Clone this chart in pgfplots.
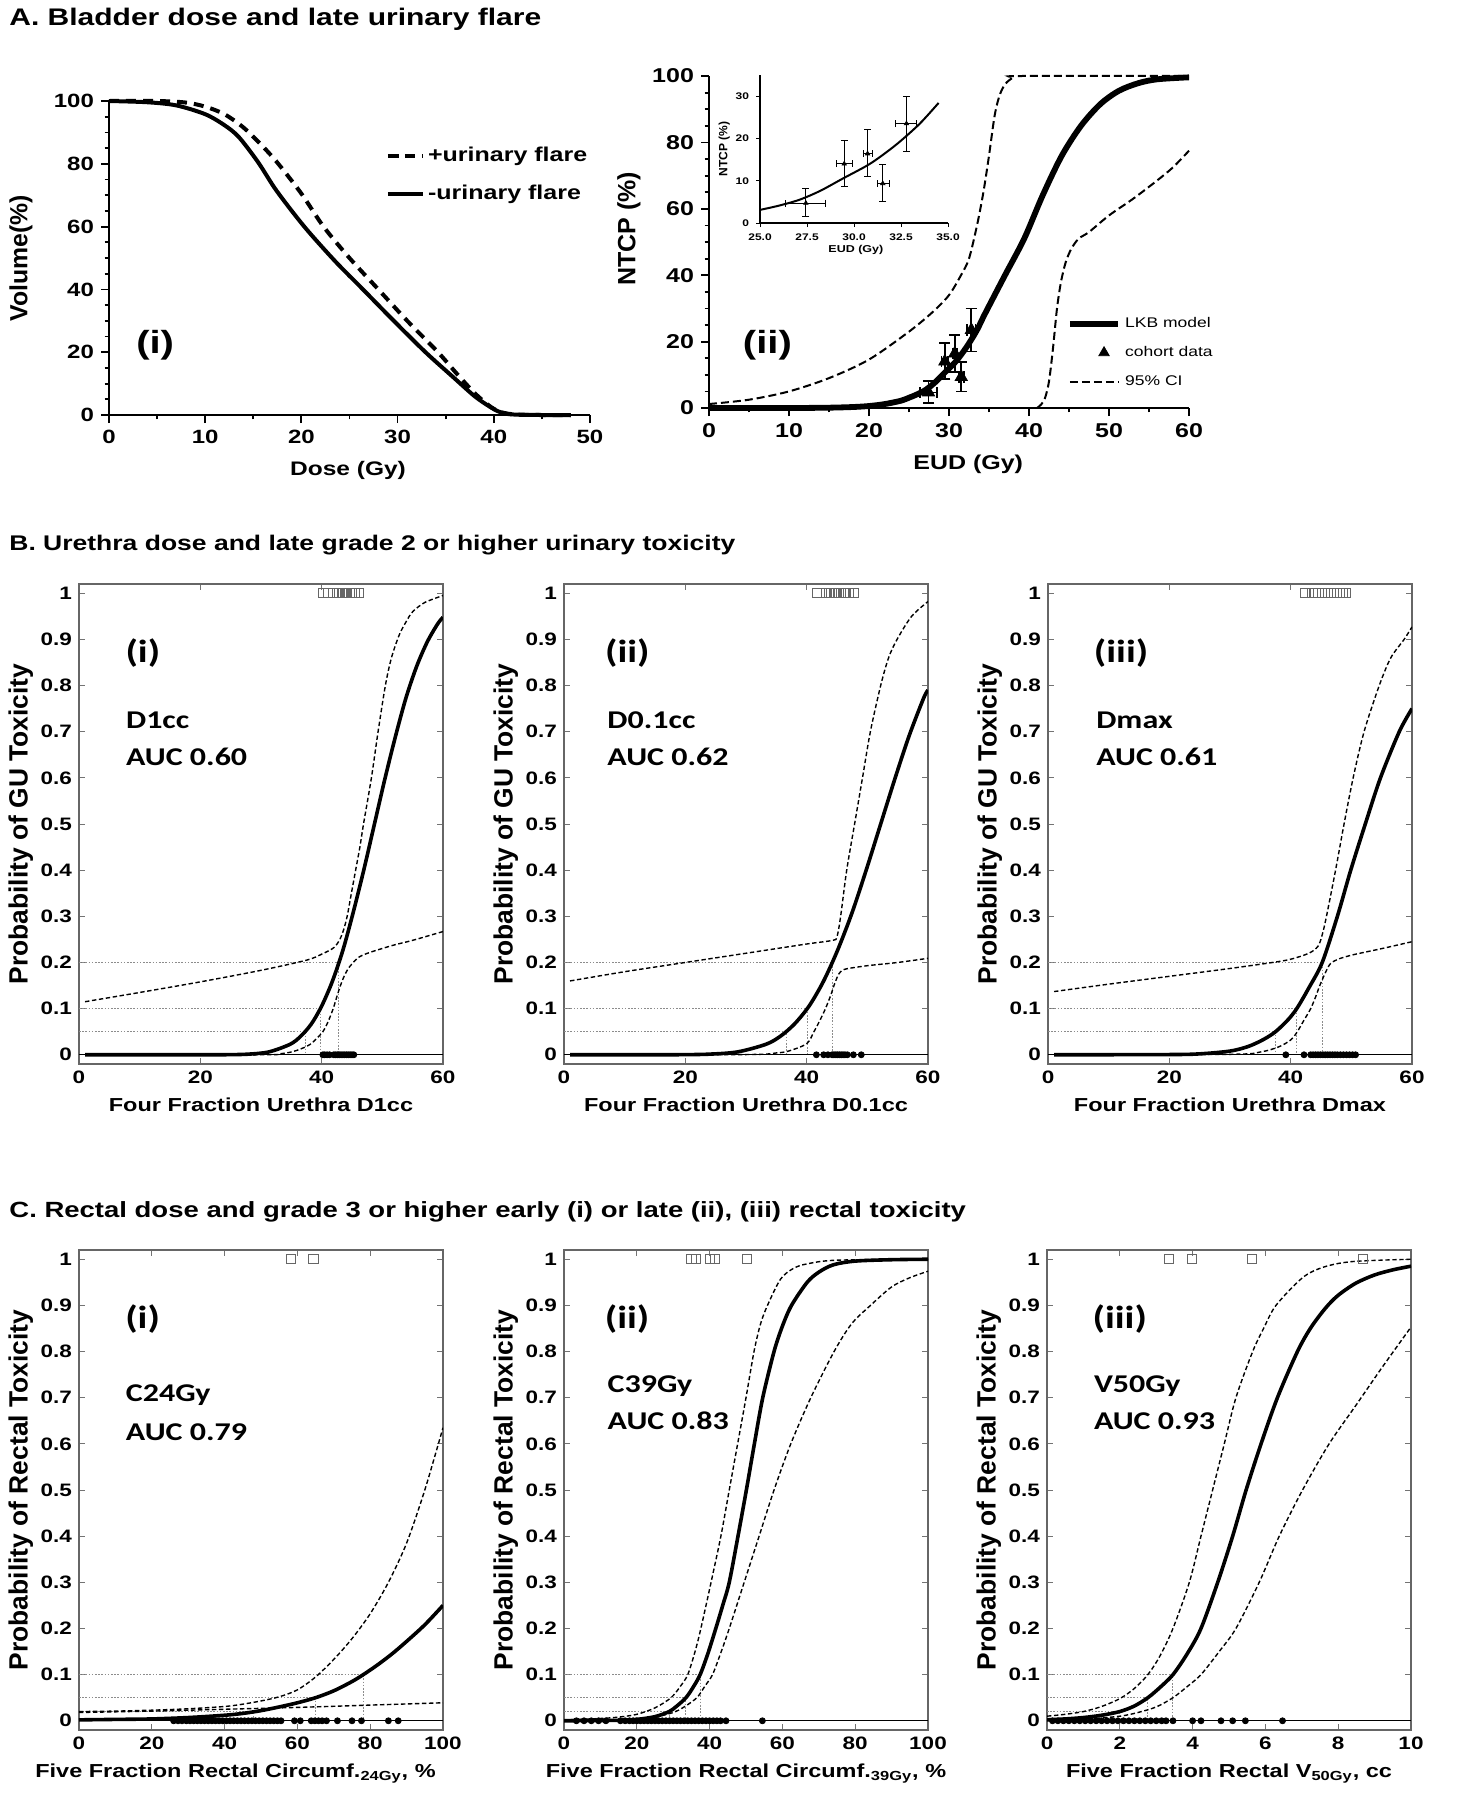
\documentclass[border=0pt]{standalone}
\usepackage{fontspec}
\setmainfont{Liberation Sans}[FakeStretch=1.25]
\newfontfamily\ylab{Liberation Sans}
\newfontfamily\calib{Carlito}[FakeStretch=1.25]
\usepackage{pgfplots}
\pgfplotsset{compat=1.18}
\tikzset{
  pnl/.style={font=\calib\fontsize{16}{18}\selectfont\bfseries, anchor=west, inner sep=0pt},
  auc/.style={font=\calib\fontsize{12.8}{14}\selectfont\bfseries, anchor=west, inner sep=0pt},
  ttl/.style={font=\fontsize{12}{14}\selectfont\bfseries, anchor=base west, inner sep=0pt},
}
\pgfplotsset{
  every axis/.append style={/pgf/number format/assume math mode=true},
  abase/.style={scale only axis, clip=false,
    axis x line*=bottom, axis y line*=left,
    axis line style={line width=1pt, black},
    tick align=outside, major tick length=4pt, minor tick length=2.2pt,
    tick style={black, line width=0.9pt},
    tick label style={font=\fontsize{9.6}{11}\selectfont\bfseries},
  },
  gbox/.style={scale only axis, width=182pt, height=240pt,
    xmin=0, ymin=-0.02, ymax=1.02,
    axis line style={black!60, line width=0.6pt},
    tick align=inside, major tick length=3pt,
    tick style={black!55, line width=0.5pt},
    ytick={0,0.1,0.2,0.3,0.4,0.5,0.6,0.7,0.8,0.9,1},
    yticklabels={0,0.1,0.2,0.3,0.4,0.5,0.6,0.7,0.8,0.9,1},
    tick label style={font=\fontsize{9}{10}\selectfont\bfseries},
    xlabel style={font=\fontsize{9.4}{11}\selectfont\bfseries, at={(axis description cs:0.5,-0.085)}, anchor=center},
    ylabel style={font=\ylab\fontsize{13.2}{15}\selectfont\bfseries, at={(axis description cs:-0.16,0.5)}, anchor=center},
  },
  gsolid/.style={black, line width=1.8pt, smooth},
  gdash/.style={black, line width=0.7pt, dash pattern=on 2.2pt off 1.3pt, smooth},
  guide/.style={black!45, line width=0.5pt, dash pattern=on 0.8pt off 0.8pt},
  zline/.style={black, line width=0.5pt},
  sq/.style={only marks, mark=square, mark size=2.3pt, mark options={black!60, line width=0.5pt}},
  dots/.style={only marks, mark=*, mark size=1.5pt, black},
}
\begin{document}
\begin{tikzpicture}
\path[use as bounding box] (0,0) rectangle (731.5pt,-900pt);
\node[ttl] at (4.5pt,-12.75pt) {A. Bladder dose and late urinary flare};
\node[ttl, font=\fontsize{10.6}{13}\selectfont\bfseries] at (4.5pt,-275.25pt) {B. Urethra dose and late grade 2 or higher urinary toxicity};
\node[ttl, font=\fontsize{11}{13}\selectfont\bfseries] at (4.5pt,-608.75pt) {C. Rectal dose and grade 3 or higher early (i) or late (ii), (iii) rectal toxicity};

% ---------------- A(i)
\begin{axis}[abase, at={(54.5pt,-207.5pt)}, anchor=south west, width=240.5pt, height=157pt,
  xmin=0, xmax=50, ymin=0, ymax=100, xtick={0,10,...,50}, ytick={0,20,...,100},
  minor x tick num=1, minor y tick num=3,
  xlabel={Dose (Gy)}, ylabel={Volume(\%)},
  xlabel style={font=\fontsize{9.8}{11}\selectfont\bfseries, at={(axis description cs:0.497,-0.175)}, anchor=center},
  ylabel style={font=\ylab\fontsize{12.4}{14}\selectfont\bfseries, at={(axis description cs:-0.183,0.5)}, anchor=center},
  legend style={at={(0.575,0.765)}, anchor=west, draw=none, fill=none, font=\fontsize{10}{12}\selectfont\bfseries, row sep=6pt, inner sep=0pt},
  legend cell align=left]
\addplot[black, line width=2pt, dash pattern=on 5pt off 3.5pt, smooth] coordinates {
(0,100) (5,100) (8,99.5) (10,98.2) (12,95.8) (14,91.5) (16,85.5) (17.6,80) (20,70.5) (22.3,60) (25,50) (28,40) (31,30) (34.2,20) (36.2,13) (38,7) (39.5,3) (40.5,1.2) (41.5,0.4) (43,0.1) (45,0) (48,0)};
\addlegendentry{+urinary flare}
\addplot[black, line width=2pt, smooth] coordinates {
(0,100) (4,99.6) (7,98.6) (10,95.8) (12,92.3) (13.5,88.5) (15.5,80.5) (17.4,71.5) (20.3,60) (23.5,49) (26.4,40) (29.6,30) (32.9,20) (35.8,12) (38,6) (39.5,2.8) (40.5,1.1) (41.5,0.3) (43,0.05) (45,0) (48,0)};
\addlegendentry{-urinary flare}
\node[font=\fontsize{16}{18}\selectfont\bfseries] at (axis cs:4.8,22.3) {(i)};
\end{axis}

% ---------------- A(ii)
\begin{axis}[abase, at={(354.5pt,-204pt)}, anchor=south west, width=240pt, height=166pt,
  xmin=0, xmax=60, ymin=0, ymax=100, xtick={0,10,...,60}, ytick={0,20,...,100},
  minor x tick num=1, minor y tick num=3,
  xlabel={EUD (Gy)}, ylabel={NTCP (\%)},
  tick label style={font=\fontsize{10}{12}\selectfont\bfseries},
  xlabel style={font=\fontsize{10}{12}\selectfont\bfseries, at={(axis description cs:0.54,-0.169)}, anchor=center},
  ylabel style={font=\ylab\fontsize{12.5}{14}\selectfont\bfseries, at={(axis description cs:-0.167,0.54)}, anchor=center},
  legend style={at={(0.745,0.167)}, anchor=west, draw=none, fill=none, font=\fontsize{7}{8}\selectfont, row sep=4pt, inner sep=0pt},
  legend cell align=left,
  legend image code/.code={\draw[#1] (0cm,0cm) -- (0.85cm,0cm);}]
\addplot[black, line width=2.9pt, smooth] coordinates {
(0,0) (10,0) (15,0.1) (18,0.3) (20,0.6) (22,1.2) (24,2.2) (25,3.1) (26,4.1) (27.1,5.5) (28.2,7.6) (29.4,10.5) (30.7,13.6) (31.5,16) (32.4,19.1) (33.5,23.5) (34.5,28.4) (37,40) (39.4,51) (41.7,64) (44.1,76) (46.5,85) (48.9,91.5) (51.2,95.5) (53.6,97.8) (56,99) (60,99.6)};
\addlegendentry{LKB model}
\addlegendimage{legend image code/.code={\draw[black, only marks, mark=triangle*, mark size=3pt] plot coordinates {(0.6cm,0cm)};}}
\addlegendentry{cohort data}
\addplot[black, line width=1pt, dash pattern=on 4pt off 2pt, smooth] coordinates {
(0,1.2) (5,2.5) (10,5) (15,9) (20,14.6) (25,23) (28,29) (30,34) (31.5,40) (32.5,45) (33.5,55) (34.3,65) (35,76) (35.7,88) (36.3,94) (37,97.5) (38,99.5) (39,100) (60,100)};
\addlegendentry{95\% CI}
\addplot[black, line width=1pt, dash pattern=on 4pt off 2pt, smooth, forget plot] coordinates {
(41,0) (41.5,1) (42,3) (42.5,8) (43,18) (43.5,30) (44,38) (44.6,44) (45.3,48) (46.2,51) (47.5,53) (50,58) (53,63) (56,68.5) (58,72.5) (60,77.5)};
\addplot[black, only marks, mark=triangle*, mark size=3.5pt, forget plot,
  error bars/.cd, x dir=both, x explicit, y dir=both, y explicit,
  error bar style={line width=0.9pt, black},
  error mark options={rotate=90, mark size=2.8pt, line width=0.9pt, black}]
  coordinates {
  (27.44,4.7) += (1.06,3.5) -= (1.11,3.1)
  (29.48,14.0) += (0.44,5.5) -= (0.41,5.3)
  (30.72,16.4) += (0.26,5.7) -= (0.23,5.5)
  (31.53,9.35) += (0.37,4.55) -= (0.30,4.35)
  (32.79,23.5) += (0.51,6.5) -= (0.59,6.5)
  };
\node[font=\fontsize{16}{18}\selectfont\bfseries] at (axis cs:7.3,19) {(ii)};
\end{axis}

% ---------------- inset
\begin{axis}[abase, at={(380pt,-111.5pt)}, anchor=south west, width=94pt, height=74pt,
  xmin=25, xmax=35, ymin=0, ymax=35, xtick={25,27.5,30,32.5,35}, ytick={0,10,20,30},
  x tick label style={/pgf/number format/fixed, /pgf/number format/fixed zerofill, /pgf/number format/precision=1},
  axis line style={line width=0.6pt}, major tick length=2pt, tick style={line width=0.5pt},
  tick label style={font=\fontsize{4.8}{5.5}\selectfont\bfseries},
  xlabel={EUD (Gy)}, ylabel={NTCP (\%)},
  xlabel style={font=\fontsize{5}{6}\selectfont\bfseries, at={(axis description cs:0.51,-0.18)}, anchor=center},
  ylabel style={font=\ylab\fontsize{6}{7}\selectfont\bfseries, at={(axis description cs:-0.19,0.5)}, anchor=center}]
\addplot[black, line width=1pt, smooth] coordinates {
(25,3.1) (26,4.1) (27.1,5.5) (28.2,7.6) (29.4,10.5) (30.7,13.6) (31.5,16) (32.4,19.1) (33.5,23.5) (34.5,28.4)};
\addplot[black, only marks, mark=triangle*, mark size=1.2pt,
  error bars/.cd, x dir=both, x explicit, y dir=both, y explicit,
  error bar style={line width=0.5pt, black},
  error mark options={rotate=90, mark size=1.7pt, line width=0.5pt, black}]
  coordinates {
  (27.44,4.7) += (1.06,3.5) -= (1.11,3.1)
  (29.48,14.0) += (0.44,5.5) -= (0.41,5.3)
  (30.72,16.4) += (0.26,5.7) -= (0.23,5.5)
  (31.53,9.35) += (0.37,4.55) -= (0.30,4.35)
  (32.79,23.5) += (0.51,6.5) -= (0.59,6.5)
  };
\end{axis}

% ---------------- B(i)
\begin{axis}[gbox, at={(39.5pt,-532pt)}, anchor=south west, xmax=60, xtick={0,20,40,60},
  xlabel={Four Fraction Urethra D1cc}, ylabel={Probability of GU Toxicity}]
\addplot[guide] coordinates {(0,0.2) (42.85,0.2) (42.85,0)};
\addplot[guide] coordinates {(0,0.1) (39.8,0.1) (39.8,0)};
\addplot[guide] coordinates {(0,0.05) (37.3,0.05) (37.3,0)};
\addplot[zline] coordinates {(0,0) (60,0)};
\addplot[gdash] coordinates {(1,0.115) (10,0.135) (20,0.158) (30,0.183) (37.5,0.205) (40,0.218) (42,0.232) (43,0.25) (43.6,0.27) (44.2,0.3) (44.9,0.35) (45.6,0.4) (46.3,0.45) (46.9,0.5) (48.2,0.6) (49.3,0.7) (50.5,0.8) (51.5,0.86) (52.8,0.91) (54,0.94) (55,0.96) (57,0.98) (60,0.995)};
\addplot[gdash] coordinates {(1,0) (30,0) (33,0.002) (35.3,0.007) (37.5,0.018) (38.6,0.028) (40.2,0.05) (41,0.07) (41.9,0.1) (42.6,0.13) (43.1,0.15) (43.7,0.17) (44.3,0.185) (45,0.197) (46.2,0.212) (48,0.222) (51.7,0.237) (55,0.248) (60,0.267)};
\addplot[gsolid] coordinates {(1,0) (20.9,0) (24.4,0.0002) (27.85,0.0013) (31.3,0.0062) (34.8,0.0228) (36.54,0.0401) (38.3,0.0668) (40.0,0.1056) (41.75,0.1587) (43.5,0.2266) (45.2,0.3085) (46.96,0.4013) (48.7,0.5) (50.44,0.5987) (52.2,0.6915) (53.9,0.7734) (55.65,0.8413) (57.4,0.8944) (59.1,0.9332) (60,0.948)};
\addplot[dots] coordinates {(40.2,0) (40.5,0) (40.9,0) (41.3,0) (42.0,0) (42.3,0) (42.6,0) (42.9,0) (43.2,0) (43.5,0) (43.8,0) (44.1,0) (44.4,0) (44.7,0) (45.0,0) (45.3,0)};
\addplot[sq] coordinates {(40.3,1) (41.0,1) (42.5,1) (42.9,1) (43.3,1) (43.6,1) (43.9,1) (44.2,1) (44.6,1) (45.0,1) (45.5,1) (46.2,1)};
\node[pnl] at (axis cs:7.6,0.87) {(i)};
\node[auc] at (axis cs:7.7,0.725) {D1cc};
\node[auc] at (axis cs:7.7,0.645) {AUC 0.60};
\end{axis}

% ---------------- B(ii)
\begin{axis}[gbox, at={(282pt,-532pt)}, anchor=south west, xmax=60, xtick={0,20,40,60},
  xlabel={Four Fraction Urethra D0.1cc}, ylabel={Probability of GU Toxicity}]
\addplot[guide] coordinates {(0,0.2) (44.25,0.2) (44.25,0)};
\addplot[guide] coordinates {(0,0.1) (40.1,0.1) (40.1,0)};
\addplot[guide] coordinates {(0,0.05) (36.65,0.05) (36.65,0)};
\addplot[zline] coordinates {(0,0) (60,0)};
\addplot[gdash] coordinates {(1,0.16) (10,0.18) (20,0.2) (30,0.22) (40,0.24) (44.3,0.248) (45,0.256) (45.6,0.3) (46.6,0.4) (47.9,0.5) (49.2,0.6) (50.5,0.7) (52.2,0.8) (53.5,0.86) (54.9,0.9) (57.3,0.95) (60,0.982)};
\addplot[gdash] coordinates {(1,0) (30,0.0005) (35,0.004) (37,0.008) (40,0.024) (41.2,0.05) (42.2,0.075) (43.1,0.1) (44,0.13) (44.5,0.15) (45.1,0.17) (45.6,0.18) (46.5,0.186) (50,0.193) (55,0.2) (60,0.209)};
\addplot[gsolid] coordinates {(1,0) (14.4,0) (19.1,0.0002) (23.85,0.0013) (28.6,0.0062) (33.3,0.0228) (35.66,0.0401) (38.0,0.0668) (40.4,0.1056) (42.75,0.1587) (45.1,0.2266) (47.5,0.3085) (49.84,0.4013) (52.2,0.5) (54.56,0.5987) (56.9,0.6915) (59.3,0.7734) (60,0.79)};
\addplot[dots] coordinates {(41.6,0) (42.8,0) (43.5,0) (44.2,0) (44.5,0) (44.8,0) (45.1,0) (45.4,0) (45.7,0) (46.0,0) (46.3,0) (46.7,0) (47.7,0) (49.0,0)};
\addplot[sq] coordinates {(41.7,1) (43.2,1) (43.7,1) (44.1,1) (44.5,1) (44.9,1) (45.3,1) (45.7,1) (46.1,1) (46.5,1) (46.9,1) (47.8,1)};
\node[pnl] at (axis cs:6.7,0.87) {(ii)};
\node[auc] at (axis cs:7.1,0.725) {D0.1cc};
\node[auc] at (axis cs:7.1,0.645) {AUC 0.62};
\end{axis}

% ---------------- B(iii)
\begin{axis}[gbox, at={(524pt,-532pt)}, anchor=south west, xmax=60, xtick={0,20,40,60},
  xlabel={Four Fraction Urethra Dmax}, ylabel={Probability of GU Toxicity}]
\addplot[guide] coordinates {(0,0.2) (45.2,0.2) (45.2,0)};
\addplot[guide] coordinates {(0,0.1) (41,0.1) (41,0)};
\addplot[guide] coordinates {(0,0.05) (37.5,0.05) (37.5,0)};
\addplot[zline] coordinates {(0,0) (60,0)};
\addplot[gdash] coordinates {(1,0.137) (10,0.153) (20,0.17) (30,0.187) (37,0.2) (40,0.207) (43,0.22) (44.5,0.235) (45.2,0.26) (45.9,0.3) (47.4,0.4) (48.8,0.5) (50.3,0.6) (52.1,0.7) (54.6,0.8) (56.5,0.86) (58.7,0.9) (60,0.927)};
\addplot[gdash] coordinates {(1,0) (30,0.001) (35,0.006) (38,0.017) (40,0.032) (41,0.048) (42.2,0.075) (43.3,0.1) (44.1,0.125) (44.8,0.15) (45.8,0.18) (46.6,0.198) (48,0.208) (50.4,0.217) (55,0.23) (60,0.245)};
\addplot[gsolid] coordinates {(1,0) (20,0.0005) (25,0.002) (30,0.008) (33,0.018) (35.5,0.033) (37.5,0.05) (39.5,0.075) (41,0.1) (43,0.145) (45.2,0.2) (47.7,0.3) (49.9,0.4) (52.3,0.5) (54.8,0.6) (57.9,0.7) (60,0.75)};
\addplot[dots] coordinates {(39.2,0) (42.2,0) (43.3,0) (43.7,0) (44.1,0) (44.5,0) (44.9,0) (45.3,0) (45.7,0) (46.1,0) (46.5,0) (46.9,0) (47.3,0) (47.7,0) (48.2,0) (48.7,0) (49.2,0) (49.7,0) (50.2,0) (50.7,0)};
\addplot[sq] coordinates {(42.3,1) (43.6,1) (44.1,1) (44.6,1) (45.1,1) (45.6,1) (46.1,1) (46.6,1) (47.1,1) (47.6,1) (48.1,1) (48.6,1) (49.1,1)};
\node[pnl] at (axis cs:7.5,0.87) {(iii)};
\node[auc] at (axis cs:7.9,0.725) {Dmax};
\node[auc] at (axis cs:7.9,0.645) {AUC 0.61};
\end{axis}

% ---------------- C(i)
\begin{axis}[gbox, at={(39.5pt,-865pt)}, anchor=south west, xmax=100, xtick={0,20,...,100},
  xlabel={Five Fraction Rectal Circumf.\textsubscript{24Gy}, \%}, ylabel={Probability of Rectal Toxicity},
  xlabel style={at={(axis description cs:0.43,-0.09)}}]
\addplot[guide] coordinates {(0,0.1) (78.1,0.1) (78.1,0)};
\addplot[guide] coordinates {(0,0.05) (65.1,0.05) (65.1,0)};
\addplot[guide] coordinates {(0,0.02) (48,0.02) (48,0)};
\addplot[zline] coordinates {(0,0) (100,0)};
\addplot[gdash] coordinates {(0,0.02) (10,0.021) (20,0.023) (30,0.026) (40,0.031) (45,0.036) (50,0.043) (55,0.052) (60,0.067) (65,0.095) (70,0.133) (75,0.178) (80,0.232) (85,0.3) (90,0.385) (95,0.5) (100,0.635)};
\addplot[gdash] coordinates {(0,0.018) (20,0.021) (40,0.025) (60,0.029) (80,0.034) (100,0.039)};
\addplot[gsolid] coordinates {(0,0.002) (10,0.003) (20,0.004) (30,0.007) (40,0.012) (45,0.016) (50,0.022) (55,0.03) (60,0.039) (65,0.05) (70,0.065) (75,0.085) (78.1,0.1) (82,0.121) (86,0.145) (90,0.172) (95,0.208) (100,0.25)};
\addplot[dots] coordinates {(26,0) (27.2,0) (28.3,0) (29.5,0) (30.5,0) (31.5,0) (32.5,0) (33.5,0) (34.5,0) (35.5,0) (36.5,0) (37.5,0) (38.5,0) (39.5,0) (40.5,0) (41.5,0) (42.5,0) (43.5,0) (44.5,0) (45.5,0) (46.5,0) (47.5,0) (48.5,0) (49.5,0) (50.5,0) (51.5,0) (52.5,0) (53.5,0) (54.5,0) (55.5,0) (59.2,0) (60.8,0) (63.8,0) (64.8,0) (65.8,0) (66.8,0) (68,0) (71,0) (75,0) (77.6,0) (85,0) (87.7,0)};
\addplot[sq] coordinates {(58.2,1) (64.4,1)};
\node[pnl] at (axis cs:12.6,0.87) {(i)};
\node[auc] at (axis cs:12.8,0.705) {C24Gy};
\node[auc] at (axis cs:12.8,0.625) {AUC 0.79};
\end{axis}

% ---------------- C(ii)
\begin{axis}[gbox, at={(282pt,-865pt)}, anchor=south west, xmax=100, xtick={0,20,...,100},
  xlabel={Five Fraction Rectal Circumf.\textsubscript{39Gy}, \%}, ylabel={Probability of Rectal Toxicity},
  xlabel style={at={(axis description cs:0.5,-0.09)}}]
\addplot[guide] coordinates {(0,0.1) (37.4,0.1) (37.4,0)};
\addplot[guide] coordinates {(0,0.05) (33.5,0.05) (33.5,0)};
\addplot[guide] coordinates {(0,0.02) (28.9,0.02) (28.9,0)};
\addplot[zline] coordinates {(0,0) (100,0)};
\addplot[gdash] coordinates {(0,0.002) (10,0.005) (15,0.008) (20,0.014) (25,0.028) (29.4,0.05) (32,0.075) (34,0.1) (36,0.15) (37.6,0.2) (40.4,0.3) (43.1,0.4) (45.4,0.5) (47.7,0.6) (50,0.7) (52.2,0.8) (54,0.86) (55.9,0.9) (59.5,0.957) (63,0.98) (66.8,0.99) (75,0.998) (100,1.0)};
\addplot[gdash] coordinates {(0,0) (20,0.003) (25,0.008) (30,0.018) (33,0.03) (36.5,0.05) (38.7,0.075) (40.8,0.1) (43.2,0.15) (45.4,0.2) (49.5,0.3) (53.6,0.4) (57.7,0.5) (62.3,0.6) (67.8,0.7) (74.2,0.8) (79,0.86) (84.2,0.9) (90,0.94) (95,0.96) (100,0.974)};
\addplot[gsolid] coordinates {(0,0) (15,0.001) (20,0.003) (25,0.009) (28.9,0.02) (31,0.032) (33.5,0.05) (35.5,0.073) (37.4,0.1) (39.5,0.145) (41.7,0.2) (43.6,0.25) (45.4,0.3) (47.8,0.4) (50.1,0.5) (52.3,0.6) (54.6,0.7) (57.7,0.8) (60,0.855) (62.5,0.9) (66.8,0.95) (70,0.972) (74,0.988) (80,0.996) (90,0.999) (100,1.0)};
\addplot[dots] coordinates {(3.4,0) (5.5,0) (7.5,0) (9.5,0) (11.5,0) (15.5,0) (16.8,0) (18,0) (19,0) (20,0) (21,0) (22,0) (23,0) (24,0) (25,0) (26,0) (27,0) (28,0) (29,0) (30,0) (31,0) (32,0) (33,0) (34,0) (35,0) (36,0) (37,0) (38,0) (39,0) (40,0) (41,0) (42,0) (43,0) (44.5,0) (54.5,0)};
\addplot[sq] coordinates {(35.0,1) (36.3,1) (40.2,1) (41.4,1) (50.2,1)};
\node[pnl] at (axis cs:11.1,0.87) {(ii)};
\node[auc] at (axis cs:11.9,0.725) {C39Gy};
\node[auc] at (axis cs:11.9,0.65) {AUC 0.83};
\end{axis}

% ---------------- C(iii)
\begin{axis}[gbox, at={(523.5pt,-865pt)}, anchor=south west, xmax=10, xtick={0,2,...,10},
  xlabel={Five Fraction Rectal V\textsubscript{50Gy}, cc}, ylabel={Probability of Rectal Toxicity},
  xlabel style={at={(axis description cs:0.5,-0.09)}}]
\addplot[guide] coordinates {(0,0.1) (3.46,0.1) (3.46,0)};
\addplot[guide] coordinates {(0,0.05) (2.77,0.05) (2.77,0)};
\addplot[guide] coordinates {(0,0.02) (2.0,0.02) (2.0,0)};
\addplot[zline] coordinates {(0,0) (10,0)};
\addplot[gdash] coordinates {(0,0.01) (0.5,0.014) (1,0.02) (1.5,0.031) (2,0.048) (2.4,0.07) (2.77,0.1) (3.1,0.14) (3.46,0.2) (3.91,0.3) (4.23,0.4) (4.55,0.5) (4.87,0.6) (5.19,0.7) (5.65,0.8) (5.95,0.85) (6.29,0.9) (7.02,0.96) (7.6,0.983) (8.39,0.995) (10,1.0)};
\addplot[gdash] coordinates {(0,0.001) (1,0.003) (2,0.01) (2.5,0.018) (3,0.03) (3.46,0.05) (3.85,0.074) (4.23,0.1) (4.73,0.15) (5.19,0.2) (5.83,0.3) (6.38,0.4) (7.02,0.5) (7.75,0.6) (8.5,0.685) (9.2,0.765) (10,0.853)};
\addplot[gsolid] coordinates {(0,0.002) (0.5,0.004) (1,0.007) (1.5,0.012) (2,0.02) (2.4,0.032) (2.77,0.05) (3.1,0.072) (3.46,0.1) (3.85,0.145) (4.23,0.2) (4.69,0.3) (5.1,0.4) (5.47,0.5) (5.88,0.6) (6.33,0.7) (6.88,0.8) (7.25,0.852) (7.66,0.895) (8.0,0.922) (8.48,0.948) (9,0.966) (9.5,0.977) (10,0.985)};
\addplot[dots] coordinates {(0.15,0) (0.3,0) (0.45,0) (0.6,0) (0.75,0) (0.9,0) (1.05,0) (1.2,0) (1.35,0) (1.5,0) (1.65,0) (1.8,0) (1.95,0) (2.1,0) (2.25,0) (2.4,0) (2.55,0) (2.7,0) (2.85,0) (3.0,0) (3.15,0) (3.27,0) (3.46,0) (4.0,0) (4.23,0) (4.78,0) (5.1,0) (5.45,0) (6.47,0)};
\addplot[sq] coordinates {(3.36,1) (3.99,1) (5.63,1) (8.68,1)};
\node[pnl] at (axis cs:1.24,0.87) {(iii)};
\node[auc] at (axis cs:1.28,0.725) {V50Gy};
\node[auc] at (axis cs:1.28,0.65) {AUC 0.93};
\end{axis}
\end{tikzpicture}
\end{document}
